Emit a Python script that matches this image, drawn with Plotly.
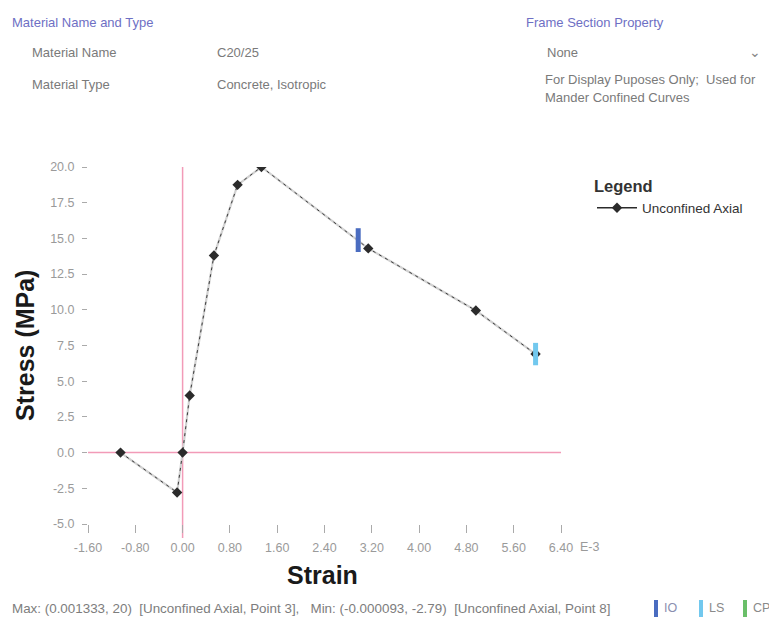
import plotly.graph_objects as go

# ---- data (strain in E-3, stress in MPa) ----
strain = [-1.05, -0.093, 0.0, 0.12, 0.53, 0.93, 1.333, 3.14, 4.96, 5.97]
stress = [0.0, -2.79, 0.0, 4.0, 13.8, 18.75, 20.0, 14.3, 9.95, 6.9]
io_point = [2.97, 14.88]
ls_point = [5.97, 6.9]
x_ticks = [-1.6, -0.8, 0.0, 0.8, 1.6, 2.4, 3.2, 4.0, 4.8, 5.6, 6.4]
x_ticktext = ["-1.60", "-0.80", "0.00", "0.80", "1.60", "2.40", "3.20", "4.00", "4.80", "5.60", "6.40"]
y_ticks = [-5.0, -2.5, 0.0, 2.5, 5.0, 7.5, 10.0, 12.5, 15.0, 17.5, 20.0]
series_name = "Unconfined Axial"

O = 8  # page body margin offset
W, H = 777 - O, 621 - O
L, R, T, B = 88 - O, 561 - O, 167 - O, 524 - O
PW, PH = R - L, B - T


def px(x):
    return (x - O - L) / PW


def py(y):
    return (B - (y - O)) / PH


FONT = "Liberation Sans, Arial, sans-serif"
fig = go.Figure()

# light underlay line
fig.add_trace(go.Scatter(x=strain, y=stress, mode="lines",
                         line=dict(color="#d2d2d2", width=2.2),
                         showlegend=False, hoverinfo="skip"))
# dark dashed line with diamonds
fig.add_trace(go.Scatter(x=strain, y=stress, mode="lines+markers",
                         line=dict(color="#3a3a3a", width=1, dash="3px,4px"),
                         marker=dict(symbol="diamond", size=8, color="#2b2b2b"),
                         showlegend=False))
# legend entry
fig.add_trace(go.Scatter(x=[None], y=[None], mode="lines+markers", name=series_name,
                         line=dict(color="#2b2b2b", width=1.5),
                         marker=dict(symbol="diamond", size=8, color="#2b2b2b")))
# IO / LS markers
fig.add_trace(go.Scatter(x=[io_point[0]], y=[io_point[1]], mode="markers",
                         marker=dict(symbol="line-ns", size=17,
                                     line=dict(color="#4a6cc0", width=5)),
                         showlegend=False))
fig.add_trace(go.Scatter(x=[ls_point[0]], y=[ls_point[1]], mode="markers",
                         marker=dict(symbol="line-ns", size=16,
                                     line=dict(color="#72c8ee", width=5)),
                         showlegend=False))

shapes = [
    # pink axes
    dict(type="line", xref="x", yref="y", x0=-1.6, x1=6.4, y0=0, y1=0,
         line=dict(color="#f29bb8", width=1.5), layer="below"),
    dict(type="line", xref="x", yref="paper", x0=0, x1=0, y0=py(538), y1=1,
         line=dict(color="#f29bb8", width=1.5), layer="below"),
]
# IO / LS / CP key bars at the bottom
for x0, col in [(654, "#4a6cc0"), (699, "#72c8ee"), (743, "#6abf69")]:
    shapes.append(dict(type="rect", xref="paper", yref="paper",
                       x0=px(x0), x1=px(x0 + 4), y0=py(617), y1=py(600),
                       fillcolor=col, line=dict(width=0)))

ann = []


def text(x, y, s, size=12, color="#7a7a7a", anchor="left", angle=0, family=FONT):
    ann.append(dict(x=px(x), y=py(y), xref="paper", yref="paper", text=s,
                    showarrow=False, xanchor=anchor, yanchor="middle",
                    textangle=angle,
                    font=dict(size=size, color=color, family=family)))


HDR = "#6e6fc4"
text(10, 22, "Material Name and Type", 13, HDR)
text(524, 22, "Frame Section Property", 13, HDR)
text(30, 52, "Material Name", 13)
text(215, 52, "C20/25", 13)
text(30, 85, "Material Type", 13)
text(215, 85, "Concrete, Isotropic", 13)
text(545, 52, "None", 13)
text(755, 52, "\u2304", 14, "#888888", anchor="center")
text(543, 80, "For Display Puposes Only;  Used for", 13)
text(543, 97, "Mander Confined Curves", 13)

# axis titles
text(25, 345, "<b>Stress (MPa)</b>", 25, "#1a1a1a", anchor="center", angle=-90)
text(322, 575, "<b>Strain</b>", 25, "#1a1a1a", anchor="center")
text(578, 547, "E-3", 12.5, "#9a9a9a")

# bottom status text
text(10, 608, "Max: (0.001333, 20)  [Unconfined Axial, Point 3],   Min: (-0.000093, -2.79)  [Unconfined Axial, Point 8]", 13.4, "#7d7d7d")
text(662, 608, "IO", 12.5, "#8a8fb0")
text(707, 608, "LS", 12.5, "#8a8a8a")
text(751, 608, "CP", 12.5, "#8a8a8a")

fig.update_layout(
    width=W, height=H,
    margin=dict(l=L, r=W - R, t=T, b=H - B, pad=0),
    paper_bgcolor="white", plot_bgcolor="white",
    font=dict(family=FONT),
    shapes=shapes, annotations=ann,
    showlegend=True,
    legend=dict(x=px(592), y=py(171), xanchor="left", yanchor="top",
                title=dict(text="<b>Legend</b>", side="top",
                           font=dict(size=16.5, color="#333333", family=FONT)),
                font=dict(size=13.5, color="#333333", family=FONT),
                bgcolor="rgba(0,0,0,0)", itemwidth=40),
)
fig.update_xaxes(range=[-1.6, 6.4], tickmode="array", tickvals=x_ticks, ticktext=x_ticktext,
                 showgrid=False, zeroline=False, showline=False,
                 ticks="outside", ticklen=8, tickcolor="#aaaaaa",
                 ticklabelstandoff=4,
                 tickfont=dict(size=12.5, color="#9a9a9a", family=FONT))
fig.update_yaxes(range=[-5, 20], tickmode="array", tickvals=y_ticks,
                 ticktext=["%.1f" % v for v in y_ticks],
                 showgrid=False, zeroline=False, showline=False,
                 ticks="outside", ticklen=5, tickcolor="#aaaaaa",
                 ticklabelstandoff=5,
                 tickfont=dict(size=12.5, color="#9a9a9a", family=FONT))

fig.write_html("out.html")
